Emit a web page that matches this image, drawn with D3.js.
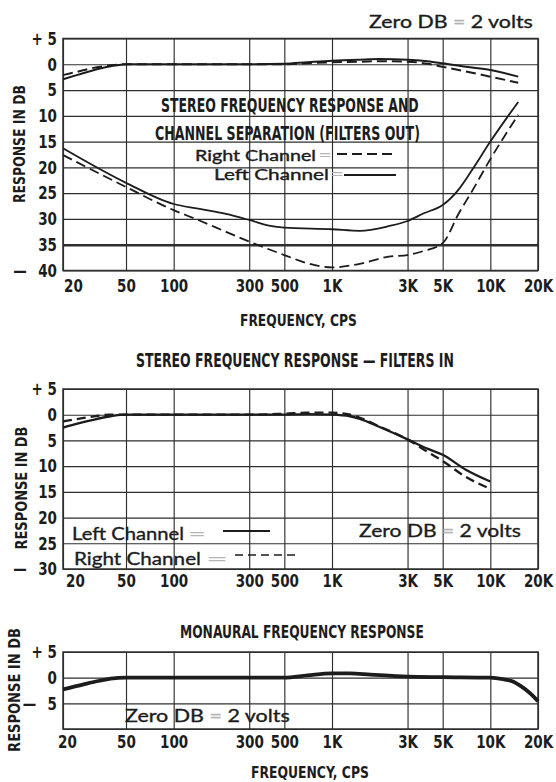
<!DOCTYPE html>
<html>
<head>
<meta charset="utf-8">
<script src="https://cdn.jsdelivr.net/npm/d3@7"></script>
<style>
  html, body { margin: 0; padding: 0; background: #ffffff; }
  svg { display: block; }
</style>
</head>
<body>
<svg id="sheet" width="556" height="782"></svg>
<script>
// ---- frequency axis (shared by all three graphs) ----
const freqTicks  = [20, 50, 100, 300, 500, 1000, 3000, 5000, 10000, 20000];
const freqLabels = ["20", "50", "100", "300", "500", "1K", "3K", "5K", "10K", "20K"];

// ---- graph 1: stereo response and channel separation, filters out ----
const dbTicks1  = [5, 0, -5, -10, -15, -20, -25, -30, -35, -40];
const dbLabels1 = ["+ 5", "0", "5", "10", "15", "20", "25", "30", "35", "\u2014\u2002 40"];

const respFreq1  = [20, 25, 30, 40, 50, 100, 300, 500, 700, 1000, 1500, 2000, 3000, 4000, 5000, 7000, 10000, 15000];
const respLeft1  = [-2.9, -2.0, -1.3, -0.4, 0, 0, 0, 0.1, 0.4, 0.7, 0.9, 1.0, 0.9, 0.6, 0.2, -0.5, -1.1, -2.4];
const respRight1 = [-2.1, -1.4, -0.8, -0.2, 0, 0, 0, 0, 0.2, 0.4, 0.5, 0.6, 0.5, 0.1, -0.5, -1.4, -2.4, -3.6];

const sepFreqLeft  = [20, 50, 100, 143, 214, 300, 400, 500, 1000, 1500, 2280, 3000, 3800, 5000, 6300, 7700, 10000, 15000];
const sepLeft      = [-16.3, -23.0, -27.1, -28.0, -29.0, -30.2, -31.3, -31.7, -32.0, -32.3, -31.4, -30.4, -28.9, -27.3, -24.3, -20.4, -15.0, -7.3];
const sepFreqRight = [20, 50, 100, 143, 214, 300, 500, 700, 1000, 1600, 2280, 3000, 3800, 5000, 6300, 7700, 10000, 15000];
const sepRight     = [-17.6, -23.8, -28.3, -30.2, -32.5, -34.4, -37.0, -38.6, -39.4, -38.5, -37.3, -37.0, -36.2, -34.7, -29.0, -24.5, -18.4, -9.8];

// ---- graph 2: stereo response, filters in ----
const dbTicks2  = [5, 0, -5, -10, -15, -20, -25, -30];
const dbLabels2 = ["+ 5", "0", "5", "10", "15", "20", "25", "\u2014\u2002 30"];

const respFreq2  = [20, 25, 30, 40, 50, 100, 300, 500, 700, 1000, 1300, 1500, 2000, 3000, 4000, 5000, 7000, 10000];
const respLeft2  = [-2.5, -1.7, -1.1, -0.3, 0, 0, 0, 0, 0.1, 0, -0.3, -0.8, -2.4, -4.8, -6.6, -7.8, -10.7, -13.0];
const respRight2 = [-1.3, -0.8, -0.4, 0, 0, 0, 0, 0.2, 0.4, 0.4, 0, -0.6, -2.3, -4.8, -7.2, -9.0, -12.1, -14.4];

// ---- graph 3: monaural response ----
const dbTicks3  = [5, 0, -5, -10];
const dbLabels3 = ["+ 5", "0", "\u2014\u2002 5", ""];

const monoFreq = [20, 27, 34, 40, 50, 100, 300, 500, 700, 1000, 1300, 1750, 3000, 5000, 10000, 12000, 14000, 15500, 17000, 18500, 20000];
const mono     = [-2.3, -1.3, -0.6, -0.2, 0, 0, 0, 0, 0.45, 0.85, 0.85, 0.6, 0.2, 0.1, 0, -0.3, -0.8, -1.6, -2.5, -3.5, -4.6];

// ---- drawing ----
const INK = "#1c1c1c";
const GRID = "#2e2e2e";
const COND = "'DejaVu Sans', 'Liberation Sans', sans-serif";
const ROUND = "Lato, 'Open Sans', 'DejaVu Sans', sans-serif";

const svg = d3.select("#sheet");
svg.append("rect").attr("width", 556).attr("height", 782).attr("fill", "#ffffff");

const x = d3.scaleLog().domain([20, 20000]).range([63, 538]);

// text squeezed or widened horizontally to a printed width; x0 = left edge, y0 = baseline
function fitText(str, x0, y0, w, o = {}) {
  const g = svg.append("g");
  const t = g.append("text")
    .attr("font-family", o.family || COND)
    .attr("font-size", o.size || 18)
    .attr("font-weight", o.weight || "bold")
    .attr("fill", o.fill || INK)
    .text(str);
  if (o.heavy) t.attr("stroke", o.fill || INK).attr("stroke-width", o.heavy);
  const natural = t.node().getComputedTextLength();
  g.attr("transform", `translate(${x0},${y0}) scale(${w / natural},1)`);
  return t;
}

function volts(x0, y0, w, size) {
  const g = svg.append("g");
  const t = g.append("text")
    .attr("font-family", ROUND).attr("font-size", size)
    .attr("fill", INK).attr("stroke", INK).attr("stroke-width", 0.35);
  t.append("tspan").text("Zero DB ");
  t.append("tspan").attr("fill", "#b5b5b5").attr("stroke", "#b5b5b5").text("=");
  t.append("tspan").text(" 2 volts");
  const natural = t.node().getComputedTextLength();
  g.attr("transform", `translate(${x0},${y0}) scale(${w / natural},1)`);
}

function yTitle(cx, cy, len) {
  const g = svg.append("g");
  const t = g.append("text")
    .attr("text-anchor", "middle")
    .attr("dy", "0.36em")
    .attr("font-family", COND).attr("font-size", 16.5).attr("font-weight", "bold")
    .attr("fill", INK)
    .text("RESPONSE IN DB");
  const natural = t.node().getComputedTextLength();
  g.attr("transform", `translate(${cx},${cy}) rotate(-90) scale(${len / natural},1)`);
}

function graph(y, dbTicks, dbLabels, opt) {
  const g = svg.append("g");
  const [top, bottom] = y.range();
  const [left, right] = x.range();

  // frequency grid lines + labels
  const ax = g.append("g")
    .attr("transform", `translate(0,${bottom})`)
    .call(d3.axisBottom(x)
      .tickValues(freqTicks)
      .tickFormat((d, i) => freqLabels[i])
      .tickSize(-(bottom - top))
      .tickSizeOuter(0));
  ax.select(".domain").remove();
  ax.selectAll(".tick line").attr("stroke", GRID).attr("stroke-width", 1.15);
  ax.selectAll(".tick text")
    .attr("y", opt.labelDrop).attr("dy", 0)
    .attr("dx", (d, i) => i === 0 ? opt.firstDx / 0.75 : 0)
    .attr("transform", "scale(0.75,1)")
    .attr("font-family", COND).attr("font-size", 18).attr("font-weight", "bold")
    .attr("fill", INK);

  // level grid lines + labels
  const ay = g.append("g")
    .attr("transform", `translate(${left},0)`)
    .call(d3.axisLeft(y)
      .tickValues(dbTicks)
      .tickFormat((d, i) => dbLabels[i])
      .tickSize(-(right - left))
      .tickSizeOuter(0));
  ay.select(".domain").remove();
  ay.selectAll(".tick line")
    .attr("stroke", GRID)
    .attr("stroke-width", d => d === opt.heavyLevel ? 2.4 : 1.15);
  ay.selectAll(".tick text")
    .attr("x", 0)
    .attr("transform", "translate(-6,0) scale(0.75,1)")
    .attr("text-anchor", "end")
    .attr("font-family", COND).attr("font-size", 18).attr("font-weight", "bold")
    .attr("fill", INK);
  ax.attr("font-family", null).attr("font-size", null);
  ay.attr("font-family", null).attr("font-size", null);

  // frame
  g.append("rect")
    .attr("x", left).attr("y", top)
    .attr("width", right - left).attr("height", bottom - top)
    .attr("fill", "none").attr("stroke", GRID).attr("stroke-width", 1.5);
  return g;
}

function curve(g, y, freqs, vals, width, dash) {
  const line = d3.line()
    .x(d => x(d[0])).y(d => y(d[1]))
    .curve(d3.curveMonotoneX);
  g.append("path")
    .datum(d3.zip(freqs, vals))
    .attr("d", line)
    .attr("fill", "none")
    .attr("stroke", INK)
    .attr("stroke-width", width)
    .attr("stroke-linecap", "butt")
    .attr("stroke-dasharray", dash || null);
}

function legendLine(x1, x2, yy, width, dash) {
  svg.append("line")
    .attr("x1", x1).attr("x2", x2).attr("y1", yy).attr("y2", yy)
    .attr("stroke", INK).attr("stroke-width", width)
    .attr("stroke-dasharray", dash || null);
}

const legendFont = { family: ROUND, size: 18, weight: "normal", heavy: 0.35 };
const equalsFont = { family: ROUND, size: 18, weight: "normal", fill: "#b5b5b5" };
// the two stacked legend rows of graph 1 sit closer together
const tightFont  = { family: ROUND, size: 15.6, weight: "normal", heavy: 0.4 };
const tightEq    = { family: ROUND, size: 15.6, weight: "normal", fill: "#b5b5b5" };

// graph 1
const y1 = d3.scaleLinear().domain([5, -40]).range([38.5, 270.5]);
const g1 = graph(y1, dbTicks1, dbLabels1, { labelDrop: 21.5, firstDx: 10, heavyLevel: -35 });
curve(g1, y1, respFreq1, respLeft1, 2);
curve(g1, y1, respFreq1, respRight1, 2, "10,5");
curve(g1, y1, sepFreqLeft, sepLeft, 1.8);
curve(g1, y1, sepFreqRight, sepRight, 1.8, "10,5");

volts(369, 28, 164, 17);
yTitle(19, 144, 118);
fitText("STEREO FREQUENCY RESPONSE AND", 161, 112, 258, { size: 19.5 });
fitText("CHANNEL SEPARATION (FILTERS OUT)", 155, 140, 265, { size: 19.5 });
fitText("Right Channel", 195, 160.5, 121, tightFont);
fitText("=", 318, 160.5, 14, tightEq);
legendLine(337, 397, 154, 1.8, "10,5");
fitText("Left Channel", 214, 179.5, 115, tightFont);
fitText("=", 330, 179.5, 14, tightEq);
legendLine(344, 396, 175, 1.8);
fitText("FREQUENCY, CPS", 240, 326, 117, { size: 15.5 });

// graph 2
const y2 = d3.scaleLinear().domain([5, -30]).range([389, 569]);
fitText("STEREO FREQUENCY RESPONSE \u2014 FILTERS IN", 136, 367, 318, { size: 19 });
const g2 = graph(y2, dbTicks2, dbLabels2, { labelDrop: 18, firstDx: 12 });
curve(g2, y2, respFreq2, respLeft2, 2.3);
curve(g2, y2, respFreq2, respRight2, 2.3, "9,5");

yTitle(21, 488, 123);
fitText("Left Channel", 72, 540, 112, legendFont);
fitText("=", 188, 540, 18, equalsFont);
legendLine(223, 270, 531, 1.8);
fitText("Right Channel", 74, 565, 127, legendFont);
fitText("=", 206, 565, 22, equalsFont);
legendLine(235, 295, 555, 1.6, "8,5");
volts(359, 537, 162, 18);

// graph 3
const y3 = d3.scaleLinear().domain([5, -10]).range([652, 729]);
fitText("MONAURAL FREQUENCY RESPONSE", 180, 638, 244, { size: 18 });
const g3 = graph(y3, dbTicks3, dbLabels3, { labelDrop: 19, firstDx: 4 });
curve(g3, y3, monoFreq, mono, 3.8);

yTitle(14, 690, 124);
volts(125, 722, 165, 18);
fitText("FREQUENCY, CPS", 251, 778, 118, { size: 15.5 });
</script>
</body>
</html>
